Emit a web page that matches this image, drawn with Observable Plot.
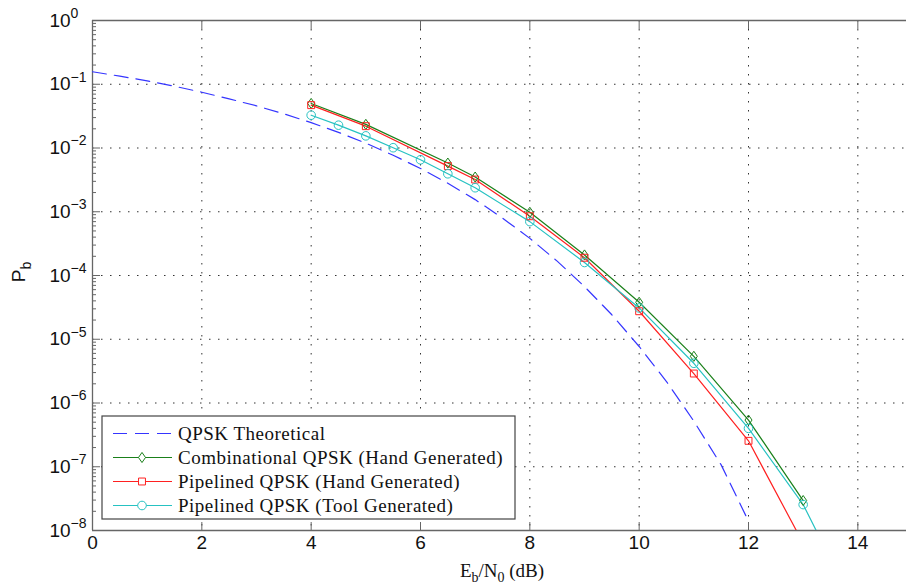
<!DOCTYPE html>
<html><head><meta charset="utf-8">
<script src="https://cdn.jsdelivr.net/npm/d3@7"></script>
<script src="https://cdn.jsdelivr.net/npm/@observablehq/plot@0.6"></script>
<style>body{margin:0;background:#fff}</style>
</head><body><div id="chart"></div>
<script>
// ---- data ----
const theoryEbN0 = [0,0.5,1,1.5,2,2.5,3,3.5,4,4.5,5,5.5,6,6.5,7,7.5,8,8.5,9,9.5,10,10.5,11,11.5,12];
const theoryPb   = [0.157,0.134,0.113,0.093,0.075,0.059,0.0458,0.0344,0.025,0.0176,0.0119,0.0077,0.00478,0.0028,0.00155,7.96e-4,3.82e-4,1.68e-4,6.7e-5,2.42e-5,7.7e-6,2.17e-6,5.2e-7,1.07e-7,1.4e-8];

const combEbN0 = [4,5,6.5,7,8,9,10,11,12,13];
const combPb   = [0.050,0.0235,0.0058,0.0035,9.8e-4,2.1e-4,3.8e-5,5.4e-6,5.4e-7,2.95e-8];

const pipeHandEbN0 = [4,5,6.5,7,8,9,10,11,12,13];
const pipeHandPb   = [0.047,0.022,0.0052,0.0032,8.5e-4,1.9e-4,2.75e-5,2.9e-6,2.55e-7,6.3e-9];

const pipeToolEbN0 = [4,4.5,5,5.5,6,6.5,7,8,9,10,11,12,13,14];
const pipeToolPb   = [0.0327,0.0228,0.0155,0.0101,0.00653,0.00394,0.00238,7.0e-4,1.6e-4,3.1e-5,4.2e-6,4.0e-7,2.55e-8,5e-10];

const seriesNames = ["QPSK Theoretical","Combinational QPSK (Hand Generated)","Pipelined QPSK (Hand Generated)","Pipelined QPSK (Tool Generated)"];
const xTicks = [0,2,4,6,8,10,12,14];
const yMajor = [1e-8,1e-7,1e-6,1e-5,1e-4,1e-3,1e-2,1e-1,1];

// ---- derived tables ----
const toRows = (xs, ys) => xs.map((x, i) => ({x, y: ys[i]}));
const theory = toRows(theoryEbN0, theoryPb);
const comb = toRows(combEbN0, combPb);
const pipeHand = toRows(pipeHandEbN0, pipeHandPb);
const pipeTool = toRows(pipeToolEbN0, pipeToolPb);
const yMinor = [];
for (let e = -8; e < 0; e++) for (let m = 2; m <= 9; m++) yMinor.push(m * Math.pow(10, e));
const xGrid = xTicks.filter(d => d > 0);
const yGrid = yMajor.filter(d => d > 1e-8 && d < 1);

const colors = {blue: "#3535ff", green: "#1a801a", red: "#ff2020", cyan: "#26c2c2"};
const diamond = {draw(ctx, size) {const s = Math.sqrt(size), h = s * 0.62, w = s * 0.43;
  ctx.moveTo(0, -h); ctx.lineTo(w, 0); ctx.lineTo(0, h); ctx.lineTo(-w, 0); ctx.closePath();}};

const frameColor = "#666";
const gridStyle = {stroke: "#333", strokeDasharray: "1.5,7.5", strokeWidth: 1};
const sans = "'Liberation Sans', Arial, sans-serif";
const serif = "'Liberation Serif', 'Times New Roman', serif";
const dash = "14,8";

const chart = Plot.plot({
  width: 906, height: 588,
  marginLeft: 92, marginRight: 0, marginTop: 20, marginBottom: 58,
  style: {background: "#fff", fontFamily: sans},
  x: {domain: [0, 15], range: [92, 912], axis: null},
  y: {type: "log", domain: [1e-8, 1], range: [530, 20], axis: null},
  marks: [
    Plot.ruleX(xGrid, gridStyle),
    Plot.ruleY(yGrid, gridStyle),
    // frame
    Plot.ruleY([1e-8, 1], {stroke: frameColor, strokeWidth: 1.3}),
    Plot.ruleX([0], {stroke: frameColor, strokeWidth: 1.3}),
    // ticks
    Plot.axisY(yMinor, {anchor: "left", tickSize: -4, fill: "none", label: null, stroke: frameColor}),
    Plot.axisY(yMajor, {anchor: "left", tickSize: -8, fill: "none", label: null, stroke: frameColor}),
    Plot.axisX(xTicks, {anchor: "bottom", tickSize: -8, fill: "none", label: null, stroke: frameColor}),
    Plot.axisX(xTicks, {anchor: "top", tickSize: -8, fill: "none", label: null, stroke: frameColor}),
    // tick labels
    Plot.text(xTicks, {x: d => d, frameAnchor: "bottom", dy: 18, text: d => String(d), fontSize: 19, fill: "#111"}),
    Plot.text(yMajor, {y: d => d, frameAnchor: "left", dx: -43, textAnchor: "start", text: () => "10", fontSize: 19, fill: "#111"}),
    Plot.text(yMajor, {y: d => d, frameAnchor: "left", dx: -22, dy: -7, textAnchor: "start",
      text: d => String(Math.round(Math.log10(d))).replace("-", "\u2212"), fontSize: 14, fill: "#111"}),
    // data
    Plot.line(theory, {x: "x", y: "y", stroke: colors.blue, strokeWidth: 1.2, strokeDasharray: dash, clip: true}),
    Plot.line(comb, {x: "x", y: "y", stroke: colors.green, strokeWidth: 1.2, clip: true}),
    Plot.line(pipeHand, {x: "x", y: "y", stroke: colors.red, strokeWidth: 1.2, clip: true}),
    Plot.line(pipeTool, {x: "x", y: "y", stroke: colors.cyan, strokeWidth: 1.2, clip: true}),
    Plot.dot(comb, {x: "x", y: "y", symbol: diamond, r: 4.6, stroke: colors.green, fill: "none", strokeWidth: 1, clip: true}),
    Plot.dot(pipeHand, {x: "x", y: "y", symbol: "square", r: 3.9, stroke: colors.red, fill: "none", strokeWidth: 1, clip: true}),
    Plot.dot(pipeTool, {x: "x", y: "y", symbol: "circle", r: 4.3, stroke: colors.cyan, fill: "none", strokeWidth: 1, clip: true})
  ]
});
document.getElementById("chart").appendChild(chart);

// ---- axis labels and legend ----
const svg = d3.select(chart);
const yl = svg.append("text").attr("transform", "translate(25,272) rotate(-90)")
  .attr("text-anchor", "middle").attr("font-family", sans).attr("font-size", 19).attr("fill", "#111");
yl.append("tspan").text("P");
yl.append("tspan").attr("dy", 6).attr("font-size", 14).text("b");

const xl = svg.append("text").attr("x", 502).attr("y", 577).attr("text-anchor", "middle")
  .attr("font-family", serif).attr("font-size", 19).attr("fill", "#111");
xl.append("tspan").text("E");
xl.append("tspan").attr("dy", 5).attr("font-size", 14).text("b");
xl.append("tspan").attr("dy", -5).text("/N");
xl.append("tspan").attr("dy", 5).attr("font-size", 14).text("0");
xl.append("tspan").attr("dy", -5).text(" (dB)");

const lg = svg.append("g");
lg.append("rect").attr("x", 102).attr("y", 416).attr("width", 413).attr("height", 103)
  .attr("fill", "#fff").attr("stroke", "#444").attr("stroke-width", 1.2);
const legendItems = [
  {name: seriesNames[0], color: colors.blue, dash: dash, sym: null},
  {name: seriesNames[1], color: colors.green, dash: null, sym: diamond, r: 4.6},
  {name: seriesNames[2], color: colors.red, dash: null, sym: d3.symbolSquare, r: 3.9},
  {name: seriesNames[3], color: colors.cyan, dash: null, sym: d3.symbolCircle, r: 4.3}
];
legendItems.forEach((it, i) => {
  const cy = 433.5 + i * 24;
  lg.append("line").attr("x1", 113).attr("x2", 172).attr("y1", cy).attr("y2", cy)
    .attr("stroke", it.color).attr("stroke-width", 1.2).attr("stroke-dasharray", it.dash);
  if (it.sym) lg.append("path").attr("transform", `translate(142,${cy})`)
    .attr("d", d3.symbol(it.sym, Math.PI * it.r * it.r)()).attr("fill", "#fff").attr("stroke", it.color);
  lg.append("text").attr("x", 178).attr("y", cy).attr("dy", "0.35em").attr("text-anchor", "start")
    .attr("font-family", serif).attr("font-size", 19).attr("letter-spacing", 0.5)
    .attr("fill", "#111").text(it.name);
});
</script></body></html>
